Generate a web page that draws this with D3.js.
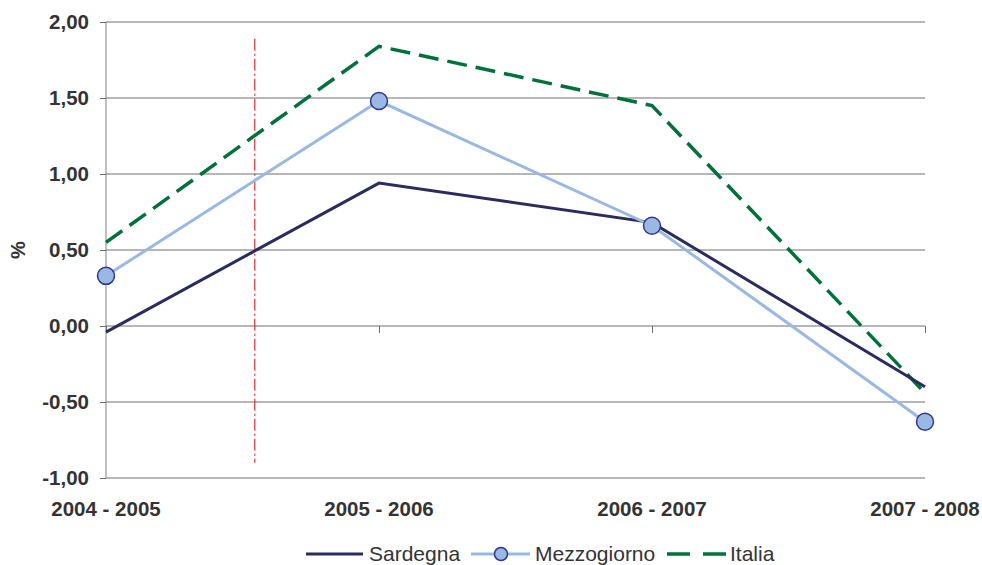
<!DOCTYPE html>
<html><head><meta charset="utf-8">
<script src="https://cdn.jsdelivr.net/npm/d3@7"></script>
<style>body{margin:0;background:#fff}svg{display:block}</style>
</head><body>
<svg id="c" width="982" height="565"></svg>
<script>
const categories = ["2004 - 2005","2005 - 2006","2006 - 2007","2007 - 2008"];
const sardegna = [-0.04, 0.94, 0.68, -0.40];
const mezzogiorno = [0.33, 1.48, 0.66, -0.63];
const italia = [0.55, 1.84, 1.45, -0.44];
const yTicks = [-1, -0.5, 0, 0.5, 1, 1.5, 2];
const markerLine = {pos: 0.545, from: -0.9, to: 1.89};

const svg = d3.select("#c");
const x = d3.scalePoint().domain(d3.range(categories.length)).range([106, 925]);
const y = d3.scaleLinear().domain([-1, 2]).range([478, 22]);
const fmt = v => d3.format(".2f")(v).replace(".", ",").replace("−","-");
const FONT = "Liberation Sans, Arial, sans-serif";

// gridlines
svg.append("g").selectAll("line").data(yTicks).join("line")
  .attr("x1", 106).attr("x2", 925).attr("y1", d => y(d)).attr("y2", d => y(d))
  .attr("stroke", "#6e6e6e").attr("stroke-width", 1);

// y axis
const ya = svg.append("g").attr("transform", "translate(106,0)")
  .call(d3.axisLeft(y).tickValues(yTicks).tickFormat(fmt).tickSize(6).tickPadding(11));
ya.select(".domain").attr("stroke", "#808080").attr("d", `M0,${y(2)}V${y(-1)}`);
ya.selectAll(".tick line").attr("stroke", "#6e6e6e");
ya.selectAll("text").attr("font-family", FONT)
  .attr("font-size", 20.5).attr("font-weight", "bold").attr("fill", "#333");

// x axis at zero
const xa = svg.append("g").attr("transform", `translate(0,${y(0)})`)
  .call(d3.axisBottom(x).tickFormat(() => "").tickSize(7));
xa.select(".domain").remove();
xa.selectAll(".tick line").attr("stroke", "#6e6e6e");

// category labels
svg.append("g").selectAll("text").data(categories).join("text")
  .attr("x", (d, i) => x(i)).attr("y", 516).attr("text-anchor", "middle")
  .attr("font-family", FONT).attr("font-size", 20.5)
  .attr("font-weight", "bold").attr("fill", "#333").text(d => d);

// y label
svg.append("text").attr("transform", `translate(25,${y(0.5)}) rotate(-90)`)
  .attr("text-anchor", "middle").attr("font-family", FONT)
  .attr("font-size", 20).attr("font-weight", "bold").attr("fill", "#333").text("%");

// red dash-dot vertical line
const xl = x(0) + (x(1) - x(0)) * markerLine.pos;
svg.append("line").attr("x1", xl).attr("x2", xl)
  .attr("y1", y(markerLine.to)).attr("y2", y(markerLine.from))
  .attr("stroke", "#d9303a").attr("stroke-width", 1.2).attr("stroke-dasharray", "12,3,2,3");

const line = d3.line().x((d, i) => x(i)).y(d => y(d));
svg.append("path").datum(italia).attr("d", line).attr("fill", "none")
  .attr("stroke", "#00703c").attr("stroke-width", 3.5).attr("stroke-dasharray", "20,9");
svg.append("path").datum(sardegna).attr("d", line).attr("fill", "none")
  .attr("stroke", "#2b2b5e").attr("stroke-width", 3);
svg.append("path").datum(mezzogiorno).attr("d", line).attr("fill", "none")
  .attr("stroke", "#99b9e2").attr("stroke-width", 3);
svg.append("g").selectAll("circle").data(mezzogiorno).join("circle")
  .attr("cx", (d, i) => x(i)).attr("cy", d => y(d)).attr("r", 8.5)
  .attr("fill", "#99b9e2").attr("stroke", "#2e3592").attr("stroke-width", 1.5);

// legend
const lg = svg.append("g").attr("font-family", FONT)
  .attr("font-size", 21).attr("fill", "#333");
const ly = 554;
lg.append("line").attr("x1", 306).attr("x2", 363).attr("y1", ly).attr("y2", ly)
  .attr("stroke", "#2b2b5e").attr("stroke-width", 3);
lg.append("text").attr("x", 369).attr("y", ly + 7).text("Sardegna");
lg.append("line").attr("x1", 471).attr("x2", 530).attr("y1", ly).attr("y2", ly)
  .attr("stroke", "#99b9e2").attr("stroke-width", 3);
lg.append("circle").attr("cx", 501).attr("cy", ly).attr("r", 6.5)
  .attr("fill", "#99b9e2").attr("stroke", "#2e3592").attr("stroke-width", 1.5);
lg.append("text").attr("x", 535).attr("y", ly + 7).text("Mezzogiorno");
lg.append("line").attr("x1", 667).attr("x2", 726).attr("y1", ly).attr("y2", ly)
  .attr("stroke", "#00703c").attr("stroke-width", 3.5).attr("stroke-dasharray", "23,13");
lg.append("text").attr("x", 730).attr("y", ly + 7).text("Italia");
</script>
</body></html>
